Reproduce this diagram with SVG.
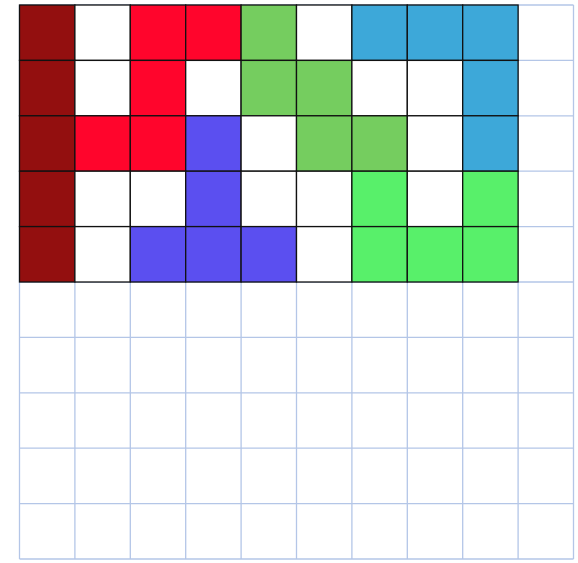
<svg xmlns="http://www.w3.org/2000/svg" width="578" height="563" viewBox="0 0 578 563">
<style>
.g{fill:#ffffff;stroke:#b4c6e7;stroke-width:1.3}
.c{stroke:#111111;stroke-width:1.3}
.dr{fill:#930f0f}.r{fill:#ff052c}.gr{fill:#75cd5f}.b{fill:#3da8d9}.p{fill:#5b4ff0}.lg{fill:#58f06a}.w{fill:#ffffff}
</style>
<rect width="578" height="563" fill="#ffffff"/>
<g id="grid">
<path d="M19.5 5V559M74.9 5V559M130.3 5V559M185.7 5V559M241.1 5V559M296.5 5V559M351.9 5V559M407.3 5V559M462.7 5V559M518.1 5V559M573.5 5V559M19.5 5H573.5M19.5 60.4H573.5M19.5 115.8H573.5M19.5 171.2H573.5M19.5 226.6H573.5M19.5 282H573.5M19.5 337.4H573.5M19.5 392.8H573.5M19.5 448.2H573.5M19.5 503.6H573.5M19.5 559H573.5" fill="none" stroke="#b4c6e7" stroke-width="1.3"/>
</g>
<g id="cells">
<g id="row0">
<rect class="c dr" x="19.5" y="5" width="55.4" height="55.4"/>
<rect class="c w" x="74.9" y="5" width="55.4" height="55.4"/>
<rect class="c r" x="130.3" y="5" width="55.4" height="55.4"/>
<rect class="c r" x="185.7" y="5" width="55.4" height="55.4"/>
<rect class="c gr" x="241.1" y="5" width="55.4" height="55.4"/>
<rect class="c w" x="296.5" y="5" width="55.4" height="55.4"/>
<rect class="c b" x="351.9" y="5" width="55.4" height="55.4"/>
<rect class="c b" x="407.3" y="5" width="55.4" height="55.4"/>
<rect class="c b" x="462.7" y="5" width="55.4" height="55.4"/>
</g>
<g id="row1">
<rect class="c dr" x="19.5" y="60.4" width="55.4" height="55.4"/>
<rect class="c w" x="74.9" y="60.4" width="55.4" height="55.4"/>
<rect class="c r" x="130.3" y="60.4" width="55.4" height="55.4"/>
<rect class="c w" x="185.7" y="60.4" width="55.4" height="55.4"/>
<rect class="c gr" x="241.1" y="60.4" width="55.4" height="55.4"/>
<rect class="c gr" x="296.5" y="60.4" width="55.4" height="55.4"/>
<rect class="c w" x="351.9" y="60.4" width="55.4" height="55.4"/>
<rect class="c w" x="407.3" y="60.4" width="55.4" height="55.4"/>
<rect class="c b" x="462.7" y="60.4" width="55.4" height="55.4"/>
</g>
<g id="row2">
<rect class="c dr" x="19.5" y="115.8" width="55.4" height="55.4"/>
<rect class="c r" x="74.9" y="115.8" width="55.4" height="55.4"/>
<rect class="c r" x="130.3" y="115.8" width="55.4" height="55.4"/>
<rect class="c p" x="185.7" y="115.8" width="55.4" height="55.4"/>
<rect class="c w" x="241.1" y="115.8" width="55.4" height="55.4"/>
<rect class="c gr" x="296.5" y="115.8" width="55.4" height="55.4"/>
<rect class="c gr" x="351.9" y="115.8" width="55.4" height="55.4"/>
<rect class="c w" x="407.3" y="115.8" width="55.4" height="55.4"/>
<rect class="c b" x="462.7" y="115.8" width="55.4" height="55.4"/>
</g>
<g id="row3">
<rect class="c dr" x="19.5" y="171.2" width="55.4" height="55.4"/>
<rect class="c w" x="74.9" y="171.2" width="55.4" height="55.4"/>
<rect class="c w" x="130.3" y="171.2" width="55.4" height="55.4"/>
<rect class="c p" x="185.7" y="171.2" width="55.4" height="55.4"/>
<rect class="c w" x="241.1" y="171.2" width="55.4" height="55.4"/>
<rect class="c w" x="296.5" y="171.2" width="55.4" height="55.4"/>
<rect class="c lg" x="351.9" y="171.2" width="55.4" height="55.4"/>
<rect class="c w" x="407.3" y="171.2" width="55.4" height="55.4"/>
<rect class="c lg" x="462.7" y="171.2" width="55.4" height="55.4"/>
</g>
<g id="row4">
<rect class="c dr" x="19.5" y="226.6" width="55.4" height="55.4"/>
<rect class="c w" x="74.9" y="226.6" width="55.4" height="55.4"/>
<rect class="c p" x="130.3" y="226.6" width="55.4" height="55.4"/>
<rect class="c p" x="185.7" y="226.6" width="55.4" height="55.4"/>
<rect class="c p" x="241.1" y="226.6" width="55.4" height="55.4"/>
<rect class="c w" x="296.5" y="226.6" width="55.4" height="55.4"/>
<rect class="c lg" x="351.9" y="226.6" width="55.4" height="55.4"/>
<rect class="c lg" x="407.3" y="226.6" width="55.4" height="55.4"/>
<rect class="c lg" x="462.7" y="226.6" width="55.4" height="55.4"/>
</g>
</g>
</svg>
